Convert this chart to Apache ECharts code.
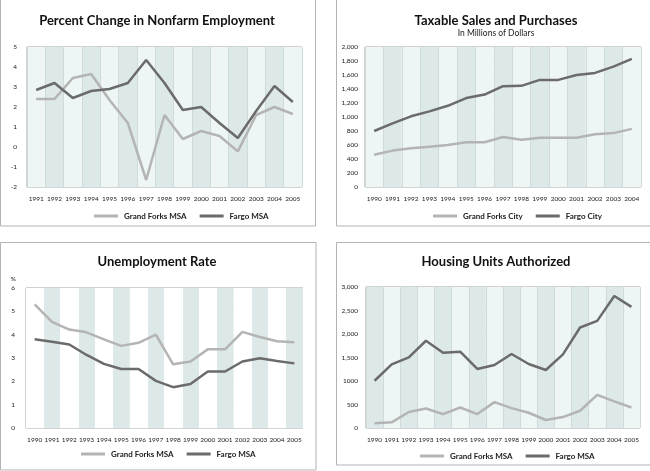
<!DOCTYPE html>
<html>
<head>
<meta charset="utf-8">
<script src="https://cdn.jsdelivr.net/npm/echarts@6/dist/echarts.min.js"></script>
<style>
html, body { margin: 0; padding: 0; background: #fff; }
#main { width: 650px; height: 471px; }
</style>
</head>
<body>
<div id="main"></div>
<script>
// categories
var empYears = ['1991','1992','1993','1994','1995','1996','1997','1998','1999','2000','2001','2002','2003','2004','2005'];
var salesYears = ['1990','1991','1992','1993','1994','1995','1996','1997','1998','1999','2000','2001','2002','2003','2004'];
var unempYears = ['1990','1991','1992','1993','1994','1995','1996','1997','1998','1999','2000','2001','2002','2003','2004','2005'];
var housingYears = ['1990','1991','1992','1993','1994','1995','1996','1997','1998','1999','2000','2001','2002','2003','2004','2005'];

// percent change in nonfarm employment
var empGrandForks = [2.4, 2.4, 3.45, 3.65, 2.35, 1.2, -1.65, 1.6, 0.4, 0.8, 0.55, -0.22, 1.6, 2.0, 1.65];
var empFargo = [2.85, 3.2, 2.45, 2.8, 2.9, 3.2, 4.35, 3.2, 1.85, 2.0, 1.2, 0.45, 1.8, 3.05, 2.25];

// taxable sales, millions of dollars
var salesGrandForks = [460, 520, 555, 575, 600, 640, 640, 715, 675, 705, 705, 705, 755, 770, 830];
var salesFargo = [800, 910, 1010, 1080, 1160, 1270, 1320, 1440, 1445, 1530, 1530, 1600, 1630, 1720, 1830];

// unemployment rate
var unempGrandForks = [5.3, 4.55, 4.22, 4.1, 3.8, 3.52, 3.65, 4.0, 2.73, 2.85, 3.37, 3.37, 4.12, 3.9, 3.72, 3.67];
var unempFargo = [3.8, 3.7, 3.58, 3.13, 2.75, 2.53, 2.53, 2.02, 1.75, 1.89, 2.42, 2.42, 2.85, 2.99, 2.87, 2.77];

// housing units authorized
var housingGrandForks = [100, 120, 340, 416, 296, 437, 296, 550, 423, 325, 170, 233, 367, 706, 565, 437];
var housingFargo = [1005, 1355, 1503, 1856, 1602, 1623, 1256, 1341, 1574, 1362, 1235, 1567, 2138, 2280, 2809, 2576];

// tick labels
var empTicks = ['-2', '-1', '0', '1', '2', '3', '4', '5'];
var salesTicks = ['0', '200', '400', '600', '800', '1,000', '1,200', '1,400', '1,600', '1,800', '2,000'];
var unempTicks = ['0', '1', '2', '3', '4', '5', '6'];
var housingTicks = ['0', '500', '1000', '1,500', '2,000', '2,500', '3,000'];

var FONT = 'Lato, "Open Sans", sans-serif';
var LIGHT = '#b4b4b4';
var DARK = '#6b6b6b';
var TEAL = '#eef5f5';
var TEAL_DARK = '#dde8e8';

var myChart = echarts.init(document.getElementById('main'));

function xAxisFor(idx, data) {
    return {
        type: 'category',
        gridIndex: idx,
        data: data,
        boundaryGap: true,
        axisLine: { show: false },
        axisTick: { show: false },
        axisLabel: { fontSize: 6.5, color: '#222', fontFamily: FONT, margin: 8, interval: 0 },
        splitLine: { show: true, interval: 0, lineStyle: { color: idx === 2 ? '#ffffff' : '#d0dada', width: 1 } },
        splitArea: {
            show: true,
            interval: 0,
            areaStyle: { color: idx === 2 ? ['#ffffff', TEAL_DARK] : (idx === 3 ? [TEAL_DARK, TEAL] : [TEAL, TEAL_DARK]) }
        }
    };
}

function yAxisFor(idx, min, max, step, ticks, margin) {
    return {
        type: 'value',
        gridIndex: idx,
        min: min,
        max: max,
        interval: step,
        axisLine: { show: false },
        axisTick: { show: false },
        axisLabel: {
            fontSize: 6.5,
            color: '#222',
            fontFamily: FONT,
            margin: margin,
            formatter: function (v) {
                return ticks[Math.round((v - min) / step)];
            }
        },
        splitLine: { show: true, lineStyle: { color: '#d0d6d6', width: 1 } }
    };
}

function line(name, idx, data, color) {
    return {
        name: name,
        type: 'line',
        xAxisIndex: idx,
        yAxisIndex: idx,
        data: data,
        symbol: 'none',
        silent: true,
        lineStyle: { color: color, width: 2.5 },
        itemStyle: { color: color }
    };
}

function legendFor(left, top, names) {
    return {
        left: left,
        top: top,
        padding: 0,
        data: names,
        icon: 'rect',
        itemWidth: 24,
        itemHeight: 3,
        itemGap: 13,
        selectedMode: false,
        textStyle: { fontSize: 8, fontWeight: 'bold', color: '#222', fontFamily: FONT, padding: [0, 0, 0, 1] }
    };
}

var titleStyle = { fontSize: 13, fontWeight: 'bold', color: '#111', fontFamily: FONT };

var option = {
    animation: false,
    title: [
        { text: 'Percent Change in Nonfarm Employment', left: 157, top: 14, padding: 0, textAlign: 'center', textStyle: titleStyle },
        {
            text: 'Taxable Sales and Purchases', subtext: 'In Millions of Dollars',
            left: 496, top: 14, padding: 0, textAlign: 'center', itemGap: 2,
            textStyle: titleStyle,
            subtextStyle: { fontSize: 8.5, color: '#222', fontFamily: FONT }
        },
        { text: 'Unemployment Rate', left: 157, top: 255, padding: 0, textAlign: 'center', textStyle: titleStyle },
        { text: 'Housing Units Authorized', left: 496, top: 255, padding: 0, textAlign: 'center', textStyle: titleStyle }
    ],
    legend: [
        legendFor(94, 212, ['Grand Forks MSA', 'Fargo MSA']),
        legendFor(433, 212, ['Grand Forks City', 'Fargo City']),
        legendFor(81, 450, ['Grand Forks MSA', 'Fargo MSA']),
        legendFor(420, 452, ['Grand Forks MSA', 'Fargo MSA'])
    ],
    grid: [
        { left: 27, top: 47, width: 275, height: 140, show: true, borderColor: '#a5a5a5', borderWidth: 1 },
        { left: 365, top: 47, width: 276, height: 140, show: true, borderColor: '#a5a5a5', borderWidth: 1 },
        { left: 26, top: 288, width: 277, height: 140, show: true, borderColor: '#a5a5a5', borderWidth: 1 },
        { left: 366, top: 287, width: 274, height: 141, show: true, borderColor: '#a5a5a5', borderWidth: 1 }
    ],
    xAxis: [
        xAxisFor(0, empYears),
        xAxisFor(1, salesYears),
        xAxisFor(2, unempYears),
        xAxisFor(3, housingYears)
    ],
    yAxis: [
        yAxisFor(0, -2, 5, 1, empTicks, 10),
        yAxisFor(1, 0, 2000, 200, salesTicks, 7),
        Object.assign(yAxisFor(2, 0, 6, 1, unempTicks, 11), {
            name: '%',
            nameLocation: 'end',
            nameGap: 6,
            nameTextStyle: { fontSize: 6.5, color: '#222', fontFamily: FONT, align: 'right', padding: [0, 10, 0, 0] }
        }),
        yAxisFor(3, 0, 3000, 500, housingTicks, 8)
    ],
    graphic: [
        { type: 'rect', shape: { x: 0.5, y: -1, width: 315, height: 227 }, style: { fill: 'none', stroke: '#b3b3b3', lineWidth: 1 }, z: 100 },
        { type: 'rect', shape: { x: 336.5, y: -1, width: 320, height: 227 }, style: { fill: 'none', stroke: '#b3b3b3', lineWidth: 1 }, z: 100 },
        { type: 'rect', shape: { x: 0.5, y: 242.5, width: 315.5, height: 227.5 }, style: { fill: 'none', stroke: '#b3b3b3', lineWidth: 1 }, z: 100 },
        { type: 'rect', shape: { x: 336.5, y: 242.5, width: 320, height: 222.5 }, style: { fill: 'none', stroke: '#b3b3b3', lineWidth: 1 }, z: 100 }
    ],
    series: [
        line('Grand Forks MSA', 0, empGrandForks, LIGHT),
        line('Fargo MSA', 0, empFargo, DARK),
        line('Grand Forks City', 1, salesGrandForks, LIGHT),
        line('Fargo City', 1, salesFargo, DARK),
        line('Grand Forks MSA', 2, unempGrandForks, LIGHT),
        line('Fargo MSA', 2, unempFargo, DARK),
        line('Grand Forks MSA', 3, housingGrandForks, LIGHT),
        line('Fargo MSA', 3, housingFargo, DARK)
    ]
};

myChart.setOption(option);
</script>
</body>
</html>
